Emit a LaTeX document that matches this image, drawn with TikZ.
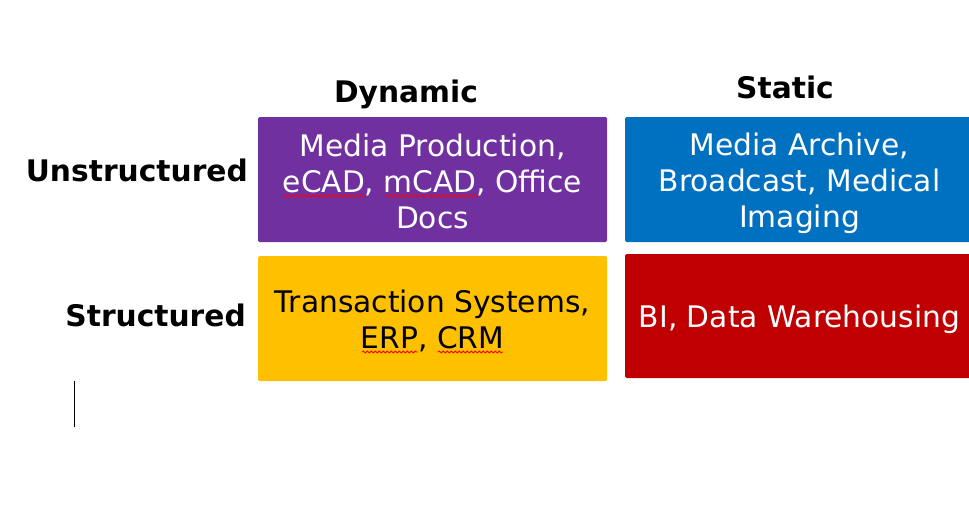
\documentclass[tikz,border=0pt]{standalone}
\usepackage{fontspec}
\setmainfont{DejaVu Sans}
\usetikzlibrary{decorations.pathmorphing}
\definecolor{cellpurple}{HTML}{7030A0}
\definecolor{cellblue}{HTML}{0070C0}
\definecolor{cellyellow}{HTML}{FFC000}
\definecolor{cellred}{HTML}{C00000}
\tikzset{
  cell/.style={rounded corners=1.5pt, inner sep=0pt, minimum width=349pt,
    minimum height=125pt},
  celltext/.style={inner sep=0pt, align=center, font=\fontsize{29.7}{35.8}\selectfont},
  axislabel/.style={inner sep=0pt, font=\bfseries\fontsize{29.7}{35.8}\selectfont},
  spellmark/.style={red, line width=0.8pt,
    decorate, decoration={snake, segment length=4pt, amplitude=1pt}}
}
\begin{document}
\begin{tikzpicture}[x=1pt, y=-1pt]
     \useasboundingbox (0,0) rectangle (969,525);
     \clip (0,0) rectangle (969,525);

     % column and row headings
     \node[axislabel] (dyn) at (406,94.5) {Dynamic};
     \node[axislabel] (stat) at (785,87) {Static};
     \node[axislabel, anchor=east] (unstr) at (248,170) {Unstructured};
     \node[axislabel, anchor=east] (str) at (246,315) {Structured};

     % the four cells
     \node[cell, fill=cellpurple] (mediaprod) at (432.5,179.5) {};
     \node[cell, fill=cellblue] (archive) at (799.5,179.5) {};
     \node[cell, fill=cellyellow] (transact) at (432.5,318.5) {};
     \node[cell, fill=cellred, minimum height=124pt] (bidata) at (799.5,316) {};

     \node[celltext, text=white] (mediaprod-t) at ([yshift=-2pt]mediaprod.center)
          {Media Production,\\eCAD, mCAD, Office\\Docs};
     \node[celltext, text=white] (archive-t) at ([yshift=-4pt]archive.center)
          {Media Archive,\\Broadcast, Medical\\Imaging};
     \node[celltext, text=black] (transact-t) at ([yshift=-2.5pt]transact.center)
          {Transaction Systems,\\ERP, CRM};
     \node[celltext, text=white] (bidata-t) at ([yshift=-3pt]bidata.center)
          {BI, Data Warehousing};

     % spell checker marks
     \draw[spellmark] (283,196) -- (365,196);
     \draw[spellmark] (385,196) -- (478,196);
     \draw[spellmark] (362,352) -- (418,352);
     \draw[spellmark] (438,352) -- (503,352);

     % text cursor
     \draw[line width=0.8pt] (74,381) -- (74,427);
\end{tikzpicture}
\end{document}
